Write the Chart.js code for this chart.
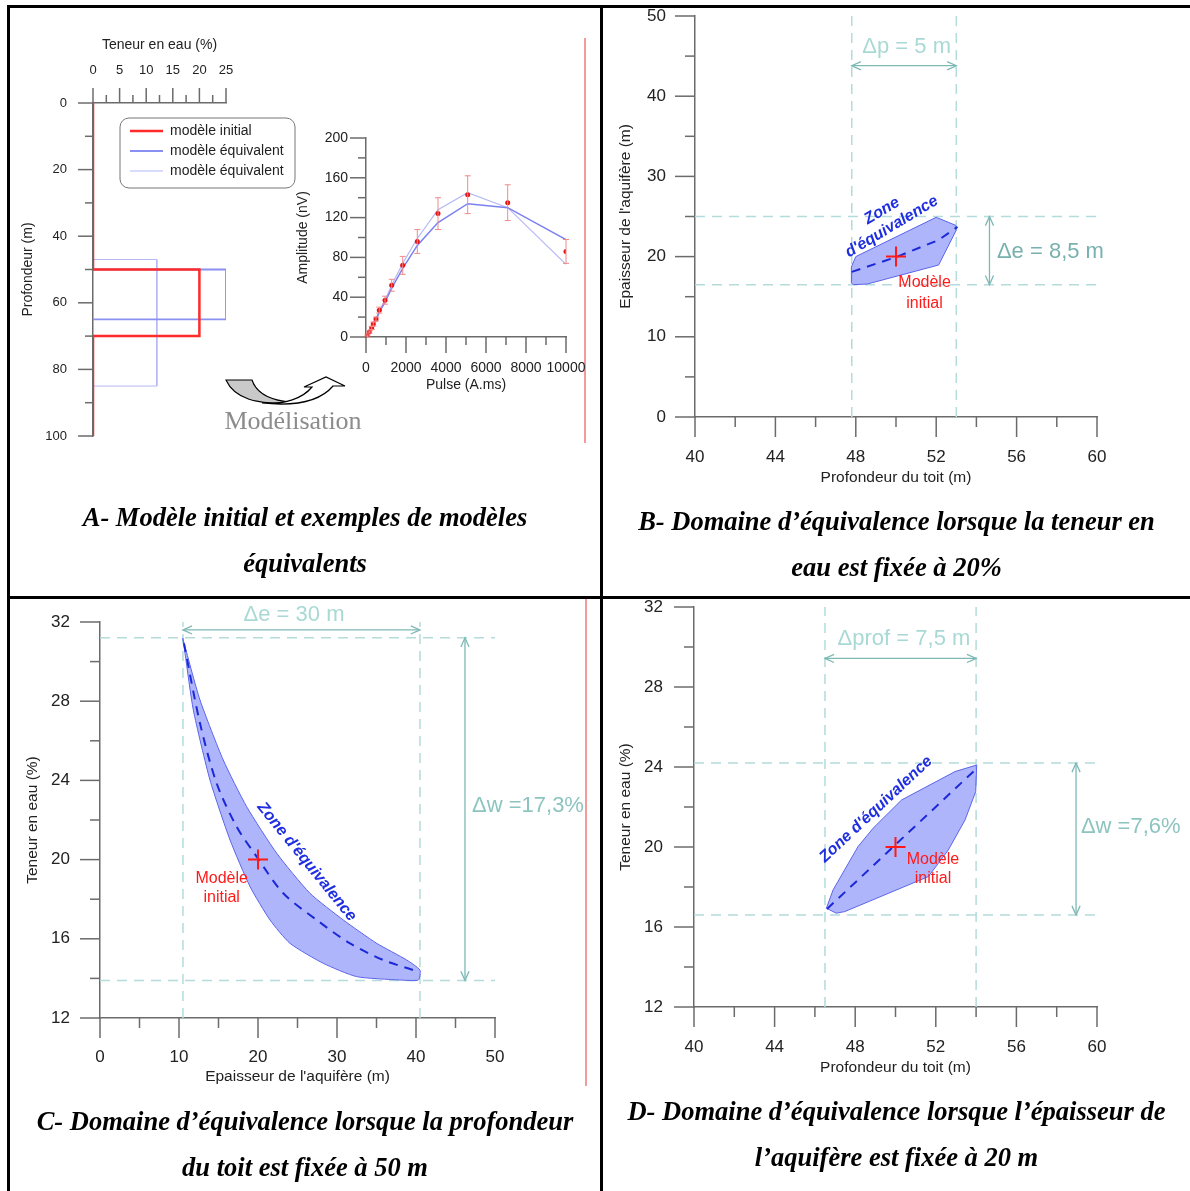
<!DOCTYPE html>
<html lang="fr">
<head>
<meta charset="utf-8">
<title>Domaines d'équivalence</title>
<script src="https://cdn.jsdelivr.net/npm/chart.js@4.4.1/dist/chart.umd.min.js"></script>
<style>
  html, body { margin: 0; padding: 0; background: #fff; }
  #page { position: relative; width: 1190px; height: 1191px; overflow: hidden; background: #fff; }
  #page canvas { position: absolute; }
  .rule { position: absolute; background: #000; }
  .redrule { position: absolute; background: #f59a9a; width: 2px; }
  .cap { position: absolute; text-align: center; font: italic bold 26.5px/46px "Liberation Serif", "Times New Roman", serif; color: #000; }
  .modl { position: absolute; text-align: center; font: 26px/28px "Liberation Serif", "Times New Roman", serif; color: #8c8c8c; }
</style>
</head>
<body>
<div id="page">
  <div class="rule" style="left:7px;top:5px;width:3px;height:1186px"></div>
  <div class="rule" style="left:7px;top:5px;width:1183px;height:3px"></div>
  <div class="rule" style="left:600px;top:5px;width:3px;height:1186px"></div>
  <div class="rule" style="left:7px;top:596px;width:1183px;height:3px"></div>
  <div class="redrule" style="left:584px;top:38px;height:405px"></div>
  <div class="redrule" style="left:585px;top:599px;height:487px"></div>

  <canvas id="cProf" width="290" height="425" style="left:10px;top:25px"></canvas>
  <canvas id="cAmp" width="305" height="290" style="left:285px;top:120px"></canvas>
  <canvas id="cB" width="580" height="500" style="left:610px;top:0px"></canvas>
  <canvas id="cC" width="580" height="500" style="left:10px;top:600px"></canvas>
  <canvas id="cD" width="580" height="500" style="left:610px;top:590px"></canvas>

  <svg width="600" height="600" style="position:absolute;left:0;top:0;pointer-events:none">
    <path d="M226,380 L252,380 C256,392 268,400 290,402 C258,406 234,398 226,380 Z" fill="#c9c9c9" stroke="#000" stroke-width="1.2"/>
    <path d="M262,403 C285,405 303,398 312,387 L304,387 L326,377 L345,386 L333,386 C322,399 300,407 262,403 Z" fill="#fff" stroke="#000" stroke-width="1.2"/>
  </svg>
  <div class="modl" style="left:193px;top:407px;width:200px">Modélisation</div>

  <div class="cap" style="left:10px;top:494px;width:590px">A- Modèle initial et exemples de modèles<br>équivalents</div>
  <div class="cap" style="left:603px;top:498px;width:587px">B- Domaine d’équivalence lorsque la teneur en<br>eau est fixée à 20%</div>
  <div class="cap" style="left:10px;top:1098px;width:590px">C- Domaine d’équivalence lorsque la profondeur<br>du toit est fixée à 50 m</div>
  <div class="cap" style="left:603px;top:1088px;width:587px">D- Domaine d’équivalence lorsque l’épaisseur de<br>l’aquifère est fixée à 20 m</div>
</div>

<script>
// ---- A : profils teneur en eau (%) / profondeur (m)
const profInitW = [0, 0, 20, 20, 0, 0];
const profInitZ = [0, 50, 50, 70, 70, 100];
const profEq1W  = [0, 25, 25, 0];
const profEq1Z  = [50, 50, 65, 65];
const profEq2W  = [0, 12, 12, 0];
const profEq2Z  = [47, 47, 85, 85];
const legendA   = ['modèle initial', 'modèle équivalent', 'modèle équivalent'];

// ---- A : amplitude (nV) en fonction du pulse (A.ms)
const pulse  = [65, 165, 285, 365, 500, 665, 950, 1285, 1835, 2565, 3600, 5085, 7085, 10000];
const ampObs = [1, 5, 9, 13, 18, 27, 37, 52, 72, 96, 124, 143, 135, 86];
const ampErr = [1, 1, 1.5, 2, 2, 3, 4, 6, 9, 12, 16, 19, 18, 12];
const ampEq1 = [1, 5, 9, 12, 17, 25, 35, 49, 69, 92, 115, 134, 130, 98];
const ampEq2 = [1, 5, 9, 13, 18, 27, 37, 52, 74, 99, 128, 145, 130, 73];

// ---- B : profondeur du toit (m) / épaisseur (m), teneur fixée à 20 %
const zoneBx  = [47.78, 47.78, 48.0, 52.0, 52.97, 53.0, 52.12, 48.57, 47.9, 47.78];
const zoneBy  = [16.7, 18.7, 20.0, 24.9, 23.9, 23.3, 18.95, 16.58, 16.5, 16.7];
const axeBx   = [47.8, 50.07, 52.12, 53.06];
const axeBy   = [18.1, 20.0, 22.07, 23.7];
const guideBx = [47.8, 53.0];
const guideBy = [16.5, 25.0];
const initB   = [50, 20];

// ---- C : épaisseur (m) / teneur en eau (%), profondeur fixée à 50 m
const zoneCx  = [10.47, 12.66, 15.6, 18.57, 22.37, 26.58, 30.8, 35.03, 38.82, 40.5, 40.3, 37.97, 32.49, 28.27, 24.05, 21.52, 19.0, 16.46, 13.92, 11.81, 10.76, 10.47];
const zoneCy  = [31.18, 28.06, 25.03, 22.67, 20.32, 18.3, 16.95, 15.77, 14.93, 14.42, 13.92, 13.92, 14.09, 14.76, 15.77, 16.95, 18.63, 20.99, 24.02, 27.56, 30.42, 31.18];
const axeCx   = [10.63, 12.66, 14.77, 17.3, 19.83, 23.2, 27.43, 31.65, 35.86, 39.66];
const axeCy   = [30.92, 26.88, 23.85, 21.66, 20.15, 18.3, 16.95, 15.77, 14.93, 14.42];
const guideCx = [10.5, 40.5];
const guideCy = [13.9, 31.2];
const initC   = [20, 20];

// ---- D : profondeur du toit (m) / teneur en eau (%), épaisseur fixée à 20 m
const zoneDx  = [46.57, 47.06, 47.48, 51.63, 52.62, 53.45, 53.98, 54.03, 52.95, 50.3, 48.89, 48.14, 46.9, 46.57];
const zoneDy  = [16.94, 16.69, 16.77, 18.52, 19.85, 21.35, 22.77, 24.1, 23.77, 22.35, 20.94, 20.02, 17.85, 16.94];
const axeDx   = [46.6, 54.0];
const axeDy   = [16.9, 23.9];
const guideDx = [46.5, 54.0];
const guideDy = [16.6, 24.2];
const initD   = [50, 20];

const FONT   = '"Liberation Sans", Arial, sans-serif';
const AXIS_C = '#6b6b6b';
const DASH_C = '#b3dcda';
const ARROW  = '#7db9b5';
const ZONE_C = '#1f2fe0';
const RED    = '#ff1a1a';

const pts = (xs, ys) => xs.map((x, i) => ({ x, y: ys[i] }));
const line = (xs, ys, color, width, extra) => Object.assign(
  { data: pts(xs, ys), showLine: true, pointRadius: 0, borderColor: color, borderWidth: width, fill: false, tension: 0 }, extra);
const cross = (p) => ({ data: [{ x: p[0], y: p[1] }], showLine: false, pointStyle: 'cross', pointRadius: 10, borderColor: RED, borderWidth: 2 });

function guides(gx, gy, xr, yr) {
  const d = { borderDash: [10, 7] };
  return gx.map(g => line([g, g], yr, DASH_C, 1.5, d)).concat(gy.map(g => line(xr, [g, g], DASH_C, 1.5, d)));
}

// label offset goes through tickLength (hidden grid) so it does not inflate the layout padding
function axis(o) {
  return {
    type: 'linear', position: o.pos, min: o.min, max: o.max, reverse: !!o.reverse,
    afterFit: s => { if (s.isHorizontal()) s.height = o.size; else s.width = o.size; },
    grid: { display: false, drawTicks: true, tickLength: o.tickPad },
    border: { display: true, color: AXIS_C, width: 1.5 },
    ticks: {
      stepSize: o.step, autoSkip: false, maxRotation: 0, padding: 0, color: '#222',
      font: { family: FONT, size: o.fs },
      callback: v => (Math.abs(v / o.every - Math.round(v / o.every)) < 1e-6 ? String(v) : '')
    },
    title: { display: true, text: o.title, color: '#222', font: { family: FONT, size: o.tfs || o.fs },
      padding: { top: o.titlePad, bottom: o.titlePad } }
  };
}

// tick marks: long for labelled ticks, short otherwise
function tickMarks(len) {
  return { id: 'tickMarks', afterDraw(chart) {
    const ctx = chart.ctx;
    ctx.save(); ctx.strokeStyle = AXIS_C; ctx.lineWidth = 1.5;
    Object.values(chart.scales).forEach(s => {
      s.ticks.forEach(t => {
        const l = t.label !== '' ? len[0] : len[1];
        const p = s.getPixelForValue(t.value);
        ctx.beginPath();
        if (s.isHorizontal()) {
          const top = s.position === 'top', y0 = top ? s.bottom : s.top;
          ctx.moveTo(p, y0); ctx.lineTo(p, y0 + (top ? -l : l));
        } else {
          ctx.moveTo(s.right, p); ctx.lineTo(s.right - l, p);
        }
        ctx.stroke();
      });
    });
    ctx.restore();
  }};
}

function dArrow(ctx, x1, y1, x2, y2, color) {
  ctx.save(); ctx.strokeStyle = color; ctx.lineWidth = 1.3;
  ctx.beginPath(); ctx.moveTo(x1, y1); ctx.lineTo(x2, y2); ctx.stroke();
  const a = Math.atan2(y2 - y1, x2 - x1), h = 10, w = 0.42;
  [[x2, y2, a], [x1, y1, a + Math.PI]].forEach(([x, y, b]) => {
    ctx.beginPath();
    ctx.moveTo(x - h * Math.cos(b - w), y - h * Math.sin(b - w));
    ctx.lineTo(x, y);
    ctx.lineTo(x - h * Math.cos(b + w), y - h * Math.sin(b + w));
    ctx.stroke();
  });
  ctx.restore();
}

function notes(list) {
  return { id: 'notes', afterDatasetsDraw(chart) {
    const { ctx, scales: { x, y } } = chart;
    list.forEach(n => {
      if (n.arrow) {
        const a = n.arrow;
        dArrow(ctx, x.getPixelForValue(a[0]), y.getPixelForValue(a[1]), x.getPixelForValue(a[2]), y.getPixelForValue(a[3]), n.color);
        return;
      }
      ctx.save();
      ctx.translate(x.getPixelForValue(n.at[0]), y.getPixelForValue(n.at[1]));
      if (n.rot) ctx.rotate(n.rot * Math.PI / 180);
      ctx.font = n.font; ctx.fillStyle = n.color;
      ctx.textAlign = n.align || 'center'; ctx.textBaseline = 'middle';
      ctx.fillText(n.text, 0, 0);
      ctx.restore();
    });
  }};
}

function build(id, plot, xo, yo, datasets, extra, len) {
  const cv = document.getElementById(id);
  const L = parseFloat(cv.style.left), T = parseFloat(cv.style.top);
  const W = cv.width, H = cv.height;
  const xTop = xo.pos === 'top';
  xo.size = xTop ? plot[1] - T : T + H - plot[3];
  yo.size = plot[0] - L;
  return new Chart(cv, {
    type: 'scatter',
    data: { datasets },
    options: {
      responsive: false, animation: false, events: [],
      layout: { padding: { left: 0, right: L + W - plot[2], top: xTop ? 0 : plot[1] - T, bottom: xTop ? T + H - plot[3] : 0 } },
      plugins: { legend: { display: false }, tooltip: { enabled: false } },
      scales: { x: axis(xo), y: axis(yo) }
    },
    plugins: [tickMarks(len)].concat(extra)
  });
}

// ---------- A gauche : profils
const legendPlug = { id: 'legA', afterDraw(chart) {
  const ctx = chart.ctx, x0 = 110, y0 = 93;
  ctx.save();
  ctx.strokeStyle = '#777'; ctx.lineWidth = 1;
  ctx.beginPath();
  if (ctx.roundRect) ctx.roundRect(x0, y0, 175, 70, 9); else ctx.rect(x0, y0, 175, 70);
  ctx.stroke();
  legendA.forEach((t, i) => {
    const ds = chart.data.datasets[i], y = y0 + 13 + i * 20;
    ctx.strokeStyle = ds.borderColor; ctx.lineWidth = ds.borderWidth;
    ctx.beginPath(); ctx.moveTo(x0 + 10, y); ctx.lineTo(x0 + 43, y); ctx.stroke();
    ctx.fillStyle = '#222'; ctx.font = '14px ' + FONT; ctx.textBaseline = 'middle';
    ctx.fillText(t, x0 + 50, y);
  });
  ctx.restore();
}};

build('cProf', [93, 103, 226, 436],
  { pos: 'top', min: 0, max: 25, step: 2.5, every: 5, fs: 13, tfs: 14, tickPad: 25, title: 'Teneur en eau (%)', titlePad: 12 },
  { pos: 'left', min: 0, max: 100, step: 10, every: 20, reverse: true, fs: 13, tfs: 14, tickPad: 26, title: 'Profondeur (m)', titlePad: 10 },
  [
    line(profInitW, profInitZ, '#ff2a2a', 2.5),
    line(profEq1W, profEq1Z, '#8a90f2', 1.8),
    line(profEq2W, profEq2Z, '#b4b8f6', 1)
  ], [legendPlug], [15, 8]);

// ---------- A droite : amplitudes
const errPlug = { id: 'errBars', afterDatasetsDraw(chart) {
  const { ctx, scales: { x, y } } = chart;
  ctx.save(); ctx.strokeStyle = '#f08a8a'; ctx.lineWidth = 1;
  pulse.forEach((p, i) => {
    const px = x.getPixelForValue(p), y1 = y.getPixelForValue(ampObs[i] + ampErr[i]), y2 = y.getPixelForValue(ampObs[i] - ampErr[i]);
    ctx.beginPath();
    ctx.moveTo(px, y1); ctx.lineTo(px, y2);
    ctx.moveTo(px - 3, y1); ctx.lineTo(px + 3, y1);
    ctx.moveTo(px - 3, y2); ctx.lineTo(px + 3, y2);
    ctx.stroke();
  });
  ctx.restore();
}};

build('cAmp', [366, 138, 566, 337],
  { pos: 'bottom', min: 0, max: 10000, step: 1000, every: 2000, fs: 14, tickPad: 23, title: 'Pulse (A.ms)', titlePad: 16 },
  { pos: 'left', min: 0, max: 200, step: 20, every: 40, fs: 14, tickPad: 18, title: 'Amplitude (nV)', titlePad: 10 },
  [
    { data: pts(pulse, ampObs), showLine: false, pointRadius: 2.5, backgroundColor: '#e81010', borderColor: '#e81010', borderWidth: 0 },
    line(pulse, ampEq1, '#7a80f0', 1.5),
    line(pulse, ampEq2, '#b5b8f5', 1.2)
  ], [errPlug], [16, 8]);

// ---------- B
build('cB', [695, 16, 1097, 417],
  { pos: 'bottom', min: 40, max: 60, step: 2, every: 4, fs: 17, tfs: 15.5, tickPad: 30, title: 'Profondeur du toit (m)', titlePad: 13 },
  { pos: 'left', min: 0, max: 50, step: 5, every: 10, fs: 17, tfs: 15.5, tickPad: 29, title: "Epaisseur de l'aquifère (m)", titlePad: 6 },
  [
    cross(initB),
    line(axeBx, axeBy, '#1a28d8', 2, { borderDash: [9, 7] }),
    line(zoneBx, zoneBy, '#5a64ea', 1, { backgroundColor: 'rgba(110,120,245,0.55)', fill: 'shape' })
  ].concat(guides(guideBx, guideBy, [40, 60], [0, 50])),
  [notes([
    { arrow: [47.8, 43.8, 53.0, 43.8], color: ARROW },
    { arrow: [54.65, 16.5, 54.65, 25.0], color: ARROW },
    { text: 'Δp = 5 m', at: [50.53, 46.2], color: '#a9d9d5', font: '22px ' + FONT },
    { text: 'Δe = 8,5 m', at: [55.02, 20.6], align: 'left', color: '#78b1ad', font: '22px ' + FONT },
    { text: 'Zone', at: [49.3, 25.69], rot: -31, color: ZONE_C, font: 'italic bold 16px ' + FONT },
    { text: "d'équivalence", at: [49.79, 23.73], rot: -31, color: ZONE_C, font: 'italic bold 16px ' + FONT },
    { text: 'Modèle', at: [51.42, 16.7], color: RED, font: '16px ' + FONT },
    { text: 'initial', at: [51.42, 14.2], color: RED, font: '16px ' + FONT }
  ])], [20, 10]);

// ---------- C
build('cC', [100, 622, 495, 1018],
  { pos: 'bottom', min: 0, max: 50, step: 5, every: 10, fs: 17, tfs: 15.5, tickPad: 29, title: "Epaisseur de l'aquifère (m)", titlePad: 14 },
  { pos: 'left', min: 12, max: 32, step: 2, every: 4, fs: 17, tfs: 15.5, tickPad: 30, title: 'Teneur en eau (%)', titlePad: 13 },
  [
    cross(initC),
    line(axeCx, axeCy, '#1a28d8', 2, { borderDash: [9, 7], tension: 0.3 }),
    line(zoneCx, zoneCy, '#5a64ea', 1, { backgroundColor: 'rgba(110,120,245,0.55)', fill: 'shape', tension: 0.2 })
  ].concat(guides(guideCx, guideCy, [0, 50], [12, 32])),
  [notes([
    { arrow: [10.5, 31.6, 40.5, 31.6], color: ARROW },
    { arrow: [46.2, 13.9, 46.2, 31.2], color: ARROW },
    { text: 'Δe = 30 m', at: [24.56, 32.35], color: '#a9d9d5', font: '22px ' + FONT },
    { text: 'Δw =17,3%', at: [47.09, 22.7], align: 'left', color: '#8cc4c0', font: '22px ' + FONT },
    { text: "Zone d'équivalence", at: [26.16, 19.89], rot: 51, color: ZONE_C, font: 'italic bold 16px ' + FONT },
    { text: 'Modèle', at: [15.4, 19.06], color: RED, font: '16px ' + FONT },
    { text: 'initial', at: [15.4, 18.08], color: RED, font: '16px ' + FONT }
  ])], [20, 10]);

// ---------- D
build('cD', [694, 607, 1097, 1007],
  { pos: 'bottom', min: 40, max: 60, step: 2, every: 4, fs: 17, tfs: 15.5, tickPad: 30, title: 'Profondeur du toit (m)', titlePad: 13 },
  { pos: 'left', min: 12, max: 32, step: 2, every: 4, fs: 17, tfs: 15.5, tickPad: 31, title: 'Teneur en eau (%)', titlePad: 6 },
  [
    cross(initD),
    line(axeDx, axeDy, '#1a28d8', 2, { borderDash: [9, 7] }),
    line(zoneDx, zoneDy, '#5a64ea', 1, { backgroundColor: 'rgba(110,120,245,0.55)', fill: 'shape' })
  ].concat(guides(guideDx, guideDy, [40, 60], [12, 32])),
  [notes([
    { arrow: [46.5, 29.43, 54.0, 29.43], color: ARROW },
    { arrow: [58.96, 16.6, 58.96, 24.2], color: ARROW },
    { text: 'Δprof = 7,5 m', at: [50.42, 30.38], color: '#a9d9d5', font: '22px ' + FONT },
    { text: 'Δw =7,6%', at: [59.2, 21.0], align: 'left', color: '#8cc4c0', font: '22px ' + FONT },
    { text: "Zone d'équivalence", at: [49.03, 21.88], rot: -43, color: ZONE_C, font: 'italic bold 16px ' + FONT },
    { text: 'Modèle', at: [51.86, 19.39], color: RED, font: '16px ' + FONT },
    { text: 'initial', at: [51.86, 18.43], color: RED, font: '16px ' + FONT }
  ])], [20, 10]);
</script>
</body>
</html>
